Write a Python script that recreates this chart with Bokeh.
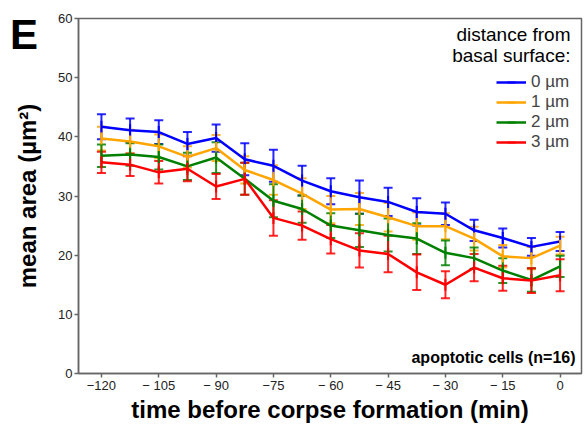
import math
from bokeh.plotting import figure
from bokeh.models import (ColumnDataSource, Whisker, TeeHead, Label, Legend,
                          LegendItem, FixedTicker, Range1d, Div)
from bokeh.embed import file_html
from bokeh.resources import INLINE

# ---------------- data ----------------
time_min = [-120, -112.5, -105, -97.5, -90, -82.5, -75, -67.5, -60,
            -52.5, -45, -37.5, -30, -22.5, -15, -7.5, 0]

series_labels = ["0 µm", "1 µm", "2 µm", "3 µm"]
series_colors = ["#0000ff", "#ffa500", "#008000", "#ff0000"]

area_0um = [41.7, 41.1, 40.8, 38.8, 39.8, 36.2, 35.1, 32.6, 30.8,
            29.8, 29.0, 27.3, 27.0, 24.2, 22.9, 21.4, 22.3]
err_0um = [2.1, 2.0, 2.0, 2.0, 2.3, 2.7, 2.7, 2.5, 2.2,
           2.8, 2.4, 2.3, 1.9, 1.8, 1.6, 1.5, 1.6]

area_1um = [39.7, 39.2, 38.4, 36.6, 38.1, 34.4, 32.7, 30.4, 27.7,
            27.8, 26.4, 24.9, 24.9, 22.8, 19.8, 19.5, 21.6]
err_1um = [2.0, 2.0, 2.0, 1.8, 2.2, 2.3, 2.5, 2.6, 2.3,
           2.7, 2.4, 2.3, 2.2, 2.0, 1.9, 1.9, 1.5]

area_2um = [36.8, 37.0, 36.6, 35.0, 36.5, 32.9, 29.2, 27.8, 25.0,
            24.2, 23.4, 22.8, 20.4, 19.5, 17.4, 15.8, 18.1]
err_2um = [1.9, 1.9, 2.1, 2.3, 2.6, 2.7, 2.8, 2.3, 2.1,
           2.8, 2.8, 2.6, 2.1, 1.8, 2.1, 2.0, 1.8]

area_3um = [35.7, 35.3, 34.0, 34.6, 31.6, 32.9, 26.3, 25.0, 22.7,
            20.8, 20.2, 17.1, 15.0, 17.9, 16.1, 15.7, 16.6]
err_3um = [1.8, 1.9, 1.9, 2.1, 2.1, 2.7, 3.0, 2.4, 2.4,
           2.9, 3.1, 3.0, 2.3, 2.3, 2.1, 2.1, 2.7]

x_tick_values = [-120, -105, -90, -75, -60, -45, -30, -15, 0]
x_tick_labels = ["\u2212120", "\u2212 105", "\u2212 90", "\u221275", "\u2212 60",
                 "\u2212 45", "\u2212 30", "\u2212 15", "0"]
y_tick_values = [0, 10, 20, 30, 40, 50, 60]

panel_letter = "E"
x_title = "time before corpse formation (min)"
y_title = "mean area (µm²)"
legend_title_lines = ["distance from", "basal surface:"]
note_text = "apoptotic cells (n=16)"

# ---------------- figure ----------------
FONT = "Liberation Sans"
AX_COL = "#666666"

p = figure(width=588, height=430, x_range=Range1d(-126, 5.6), y_range=Range1d(0, 60),
           output_backend="svg", toolbar_location=None,
           min_border_left=78, min_border_right=7, min_border_top=18, min_border_bottom=57)

p.xgrid.visible = False
p.ygrid.visible = False
p.outline_line_color = AX_COL
p.outline_line_width = 1.5
p.background_fill_color = "white"
p.border_fill_color = "white"

for ax in (p.xaxis[0], p.yaxis[0]):
    ax.axis_line_color = AX_COL
    ax.axis_line_width = 1.5
    ax.major_tick_line_color = AX_COL
    ax.major_tick_line_width = 1.5
    ax.major_tick_out = 4
    ax.major_tick_in = 0
    ax.minor_tick_line_color = None
    ax.major_label_text_font = FONT
    ax.major_label_text_font_size = "13px"
    ax.major_label_text_color = "#222222"
    ax.axis_label_text_font = FONT
    ax.axis_label_text_font_style = "bold"
    ax.axis_label_text_font_size = "24px"
    ax.axis_label_text_color = "black"

p.xaxis[0].ticker = FixedTicker(ticks=x_tick_values)
p.xaxis[0].major_label_overrides = {v: l for v, l in zip(x_tick_values, x_tick_labels)}
p.xaxis[0].major_label_standoff = 0
p.xaxis[0].axis_label_standoff = 0
p.xaxis[0].axis_label = x_title

p.yaxis[0].ticker = FixedTicker(ticks=y_tick_values)
p.yaxis[0].major_label_standoff = 2
p.yaxis[0].axis_label_standoff = 14
p.yaxis[0].axis_label = y_title

all_areas = [area_0um, area_1um, area_2um, area_3um]
all_errs = [err_0um, err_1um, err_2um, err_3um]

items = []
for lab, col, ys, es in zip(series_labels, series_colors, all_areas, all_errs):
    src = ColumnDataSource(dict(
        x=time_min, y=ys,
        upper=[v + e for v, e in zip(ys, es)],
        lower=[v - e for v, e in zip(ys, es)],
    ))
    w = Whisker(source=src, base="x", upper="upper", lower="lower",
                line_color=col, line_width=2, line_alpha=0.85,
                upper_head=TeeHead(size=9, line_color=col, line_width=2, line_alpha=0.85),
                lower_head=TeeHead(size=9, line_color=col, line_width=2, line_alpha=0.85))
    p.add_layout(w)
    lr = p.line("x", "y", source=src, line_color=col, line_width=2.5)
    dr = p.scatter("x", "y", source=src, marker="dash", angle=math.pi / 2, size=12,
                   line_color=col, line_width=2)
    items.append(LegendItem(label=lab, renderers=[lr, dr]))

legend = Legend(items=items, location=(418, 221), orientation="vertical",
                glyph_width=30, glyph_height=20, label_height=20, spacing=0,
                padding=0, margin=0, label_standoff=5,
                label_text_font=FONT, label_text_font_size="17px",
                background_fill_alpha=0, border_line_alpha=0)
p.add_layout(legend)

for i, line in enumerate(legend_title_lines):
    p.add_layout(Label(x=492, y=339 - 21 * i, x_units="screen", y_units="screen",
                       text=line, text_align="right", text_baseline="alphabetic",
                       text_font=FONT, text_font_size="19px", text_color="black"))

p.add_layout(Label(x=497, y=16, x_units="screen", y_units="screen",
                   text=note_text, text_align="right", text_baseline="alphabetic",
                   text_font=FONT, text_font_size="16px", text_font_style="bold",
                   text_color="black"))

letter = Div(text=panel_letter, styles={
    "position": "absolute", "left": "10px", "top": "14px", "margin": "0",
    "padding": "0", "font-family": "Liberation Sans", "font-weight": "bold",
    "font-size": "42px", "line-height": "1", "color": "black", "z-index": "10"})
p.elements = [letter]

open("out.html", "w").write(file_html(p, INLINE))
